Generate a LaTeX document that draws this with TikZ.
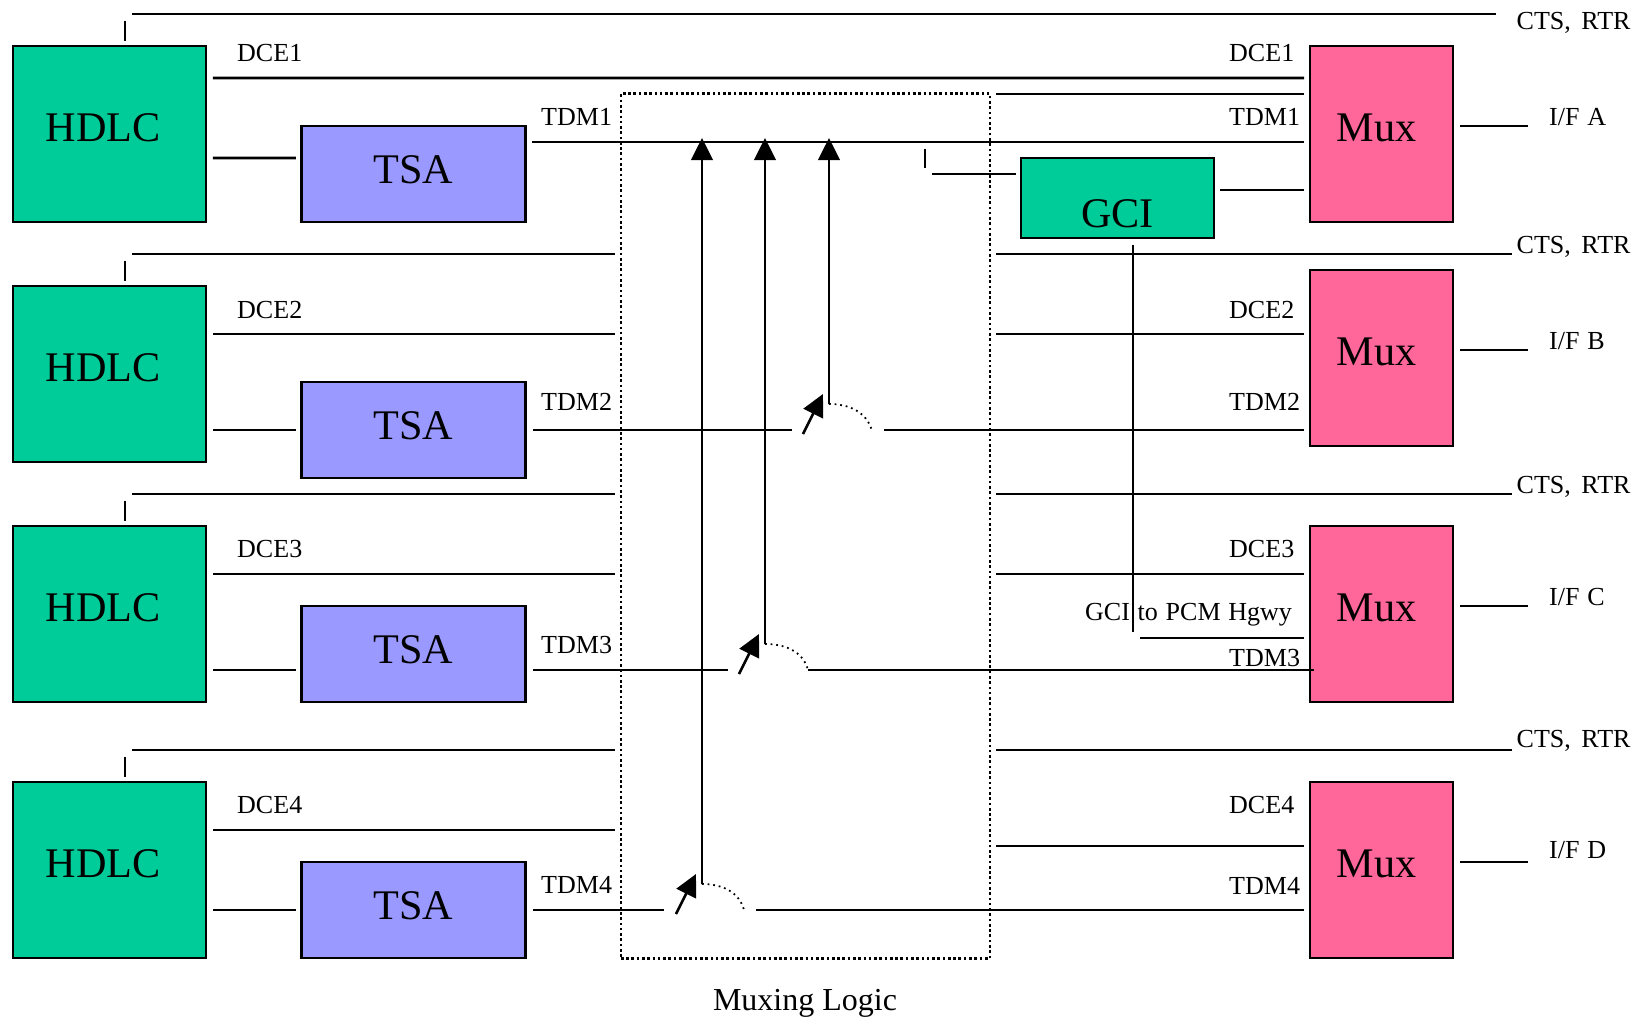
\documentclass[tikz,border=0pt]{standalone}
\usepackage{fontspec}
\setmainfont{Liberation Serif}
\usetikzlibrary{arrows.meta}
\definecolor{hdlcgreen}{HTML}{00CC99}
\definecolor{tsablue}{HTML}{9999FF}
\definecolor{muxpink}{HTML}{FF6699}
\newcommand{\labelfont}{\fontsize{7.4}{9}\selectfont\spaceskip=2.2pt\relax}
\tikzset{
	wire/.style={line width=.75pt},
	feed/.style={wire, shorten <=.055cm, shorten >=.04cm},
	hop/.style={line width=.5pt, dash pattern=on .5pt off 1.1pt},
	uparrow/.style={wire, -{Triangle[length=.22cm,width=.215cm]}},
	big/.style={font=\fontsize{12}{14}\selectfont, inner sep=0pt},
	small/.style={font=\labelfont, inner sep=0pt, anchor=base west},
	hdlcbox/.style={draw, wire, fill=hdlcgreen, minimum width=1.93cm, minimum height=1.76cm, inner sep=0pt, label={[big, xshift=-.065cm, yshift=.06cm]center:HDLC}},
	tsabox/.style={draw, wire, fill=tsablue, minimum width=2.24cm, minimum height=.96cm, inner sep=0pt, label={[big, yshift=.04cm]center:TSA}},
	muxbox/.style={draw, wire, fill=muxpink, minimum width=1.43cm, minimum height=1.76cm, inner sep=0pt, label={[big, xshift=-.05cm, yshift=.06cm]center:Mux}},
	gcibox/.style={draw, wire, fill=hdlcgreen, minimum width=1.93cm, minimum height=.8cm, inner sep=0pt, label={[big, yshift=-.155cm]center:GCI}},
}
\begin{document}
\begin{tikzpicture}[x=.01cm, y=-.01cm]
	\useasboundingbox (0,0) rectangle (1644,1018);
	% muxing logic frame
	\node[draw, line width=.75pt, dash pattern=on .75pt off .75pt, minimum width=3.69cm, minimum height=8.64cm, inner sep=0pt] (logic) at (805.5,526) {};
	\node[small, anchor=base, font=\fontsize{9.1}{11}\selectfont] (logiclabel) at (805,1010) {Muxing Logic};
	% blocks
	\node[hdlcbox] (hdlc1) at (109.5,134) {};
	\node[hdlcbox] (hdlc2) at (109.5,374) {};
	\node[hdlcbox] (hdlc3) at (109.5,614) {};
	\node[hdlcbox] (hdlc4) at (109.5,870) {};
	\node[tsabox] (tsa1) at (413.3,174) {};
	\node[tsabox] (tsa2) at (413.3,430) {};
	\node[tsabox] (tsa3) at (413.3,654) {};
	\node[tsabox] (tsa4) at (413.3,910) {};
	\node[muxbox] (mux1) at (1381.5,134) {};
	\node[muxbox] (mux2) at (1381.5,358) {};
	\node[muxbox] (mux3) at (1381.5,614) {};
	\node[muxbox] (mux4) at (1381.5,870) {};
	\node[gcibox] (gci) at (1117.5,198) {};
	% end points
	\coordinate (ctsstart1) at (132,14); \coordinate (ctsend1) at (1496,14);
	\coordinate (ctsstart2) at (132,254); \coordinate (ctsgap2a) at (615,254); \coordinate (ctsgap2b) at (996,254); \coordinate (ctsend2) at (1512,254);
	\coordinate (ctsstart3) at (132,494); \coordinate (ctsgap3a) at (615,494); \coordinate (ctsgap3b) at (996,494); \coordinate (ctsend3) at (1512,494);
	\coordinate (ctsstart4) at (132,750); \coordinate (ctsgap4a) at (615,750); \coordinate (ctsgap4b) at (996,750); \coordinate (ctsend4) at (1512,750);
	\coordinate (tick1a) at (125,21); \coordinate (tick1b) at (125,41);
	\coordinate (tick2a) at (125,261); \coordinate (tick2b) at (125,281);
	\coordinate (tick3a) at (125,501); \coordinate (tick3b) at (125,521);
	\coordinate (tick4a) at (125,757); \coordinate (tick4b) at (125,777);
	\coordinate (dceend1) at (1304,78); \coordinate (extra1a) at (996,94); \coordinate (extra1b) at (1304,94);
	\coordinate (dcegap2a) at (615,334); \coordinate (dcegap2b) at (996,334);
	\coordinate (dcegap3a) at (615,574); \coordinate (dcegap3b) at (996,574);
	\coordinate (dcegap4a) at (615,830); \coordinate (dcegap4b) at (996,846);
	\coordinate (tdm1a) at (532,142); \coordinate (tdm1b) at (1304,142);
	\coordinate (tdm2a) at (792,430); \coordinate (tdm2b) at (884,430);
	\coordinate (tdm3a) at (728,670); \coordinate (tdm3b) at (808,670);
	\coordinate (tdm4a) at (664,910); \coordinate (tdm4b) at (756,910);
	\coordinate (hop2) at (872,431); \coordinate (hop3) at (808,670); \coordinate (hop4) at (744,910);
	\coordinate (foot2) at (829,404); \coordinate (foot3) at (765,644); \coordinate (foot4) at (702,884);
	\coordinate (top2) at (829,138); \coordinate (top3) at (765,138); \coordinate (top4) at (702,138);
	\coordinate (sel2a) at (803,434); \coordinate (sel2b) at (823,394);
	\coordinate (sel3a) at (739,674); \coordinate (sel3b) at (759,634);
	\coordinate (sel4a) at (676,914); \coordinate (sel4b) at (696,874);
	\coordinate (gcitick1) at (925,149); \coordinate (gcitick2) at (925,168);
	\coordinate (gcileft1) at (932,174); \coordinate (gcileft2) at (1016,174);
	\coordinate (gciright1) at (1220,190); \coordinate (gciright2) at (1304,190);
	\coordinate (hgwy1) at (1133,245); \coordinate (hgwy2) at (1133,632);
	\coordinate (hgwy3) at (1140,638); \coordinate (hgwy4) at (1304,638);
	\coordinate (ifa) at (1528,126); \coordinate (ifb) at (1528,350); \coordinate (ifc) at (1528,606); \coordinate (ifd) at (1528,862);
	% control lines
	\draw[wire] (ctsstart1) -- (ctsend1);
	\draw[wire] (ctsstart2) -- (ctsgap2a);
	\draw[wire] (ctsgap2b) -- (ctsend2);
	\draw[wire] (ctsstart3) -- (ctsgap3a);
	\draw[wire] (ctsgap3b) -- (ctsend3);
	\draw[wire] (ctsstart4) -- (ctsgap4a);
	\draw[wire] (ctsgap4b) -- (ctsend4);
	\draw[wire] (tick1a) -- (tick1b);
	\draw[wire] (tick2a) -- (tick2b);
	\draw[wire] (tick3a) -- (tick3b);
	\draw[wire] (tick4a) -- (tick4b);
	% DCE lines
	\draw[feed, shorten >=0pt] ([yshift=.56cm]hdlc1.east) -- (dceend1);
	\draw[wire] (extra1a) -- (extra1b);
	\draw[feed, shorten >=0pt] (hdlc2.east |- dcegap2a) -- (dcegap2a);
	\draw[wire] (dcegap2b) -- ([xshift=-.05cm]mux2.west |- dcegap2b);
	\draw[feed, shorten >=0pt] (hdlc3.east |- dcegap3a) -- (dcegap3a);
	\draw[wire] (dcegap3b) -- ([xshift=-.05cm]mux3.west |- dcegap3b);
	\draw[feed, shorten >=0pt] (hdlc4.east |- dcegap4a) -- (dcegap4a);
	\draw[wire] (dcegap4b) -- ([xshift=-.05cm]mux4.west |- dcegap4b);
	% HDLC to TSA
	\draw[feed] ([yshift=-.24cm]hdlc1.east) -- ([yshift=.16cm]tsa1.west);
	\draw[feed] (hdlc2.east |- tsa2.west) -- (tsa2.west);
	\draw[feed] (hdlc3.east |- tdm3a) -- (tsa3.west |- tdm3a);
	\draw[feed] (hdlc4.east |- tsa4.west) -- (tsa4.west);
	% TDM lines
	\draw[wire] (tdm1a) -- (tdm1b);
	\draw[wire] ([xshift=.06cm]tsa2.east) -- (tdm2a);
	\draw[wire] (tdm2b) -- ([xshift=-.05cm]mux2.west |- tdm2b);
	\draw[wire] ([xshift=.06cm]tsa3.east |- tdm3a) -- (tdm3a);
	\draw[wire] (tdm3b) -- ([xshift=.05cm]mux3.west |- tdm3b);
	\draw[wire] ([xshift=.06cm]tsa4.east) -- (tdm4a);
	\draw[wire] (tdm4b) -- ([xshift=-.05cm]mux4.west |- tdm4b);
	% switches
	\draw[uparrow] (foot2) -- (top2);
	\draw[uparrow] (foot3) -- (top3);
	\draw[uparrow] (foot4) -- (top4);
	\draw[uparrow] (sel2a) -- (sel2b);
	\draw[uparrow] (sel3a) -- (sel3b);
	\draw[uparrow] (sel4a) -- (sel4b);
	\draw[hop] (foot2) to[out=0, in=105] (hop2);
	\draw[hop] (foot3) to[out=0, in=105] (hop3);
	\draw[hop] (foot4) to[out=0, in=105] (hop4);
	% GCI
	\draw[wire] (gcitick1) -- (gcitick2);
	\draw[wire] (gcileft1) -- (gcileft2);
	\draw[wire] (gciright1) -- (gciright2);
	\draw[wire] (hgwy1) -- (hgwy2);
	\draw[wire] (hgwy3) -- (hgwy4);
	% outputs
	\draw[feed, shorten >=0pt] (mux1.east |- ifa) -- (ifa);
	\draw[feed, shorten >=0pt] (mux2.east |- ifb) -- (ifb);
	\draw[feed, shorten >=0pt] (mux3.east |- ifc) -- (ifc);
	\draw[feed, shorten >=0pt] (mux4.east |- ifd) -- (ifd);
	% labels
	\node[small] (cts1) at (1516,29) {CTS,\hspace{.8pt} RTR};
	\node[small] (cts2) at (1516,253) {CTS,\hspace{.8pt} RTR};
	\node[small] (cts3) at (1516,493) {CTS,\hspace{.8pt} RTR};
	\node[small] (cts4) at (1516,747) {CTS,\hspace{.8pt} RTR};
	\node[small] (dcel1) at (236.5,61) {DCE1};
	\node[small] (dcel2) at (236.5,318) {DCE2};
	\node[small] (dcel3) at (236.5,557) {DCE3};
	\node[small] (dcel4) at (236.5,813) {DCE4};
	\node[small] (dcer1) at (1228.5,61) {DCE1};
	\node[small] (dcer2) at (1228.5,318) {DCE2};
	\node[small] (dcer3) at (1228.5,557) {DCE3};
	\node[small] (dcer4) at (1228.5,813) {DCE4};
	\node[small] (tdml1) at (540.5,125) {TDM1};
	\node[small] (tdml2) at (540.5,410) {TDM2};
	\node[small] (tdml3) at (540.5,653) {TDM3};
	\node[small] (tdml4) at (540.5,893) {TDM4};
	\node[small] (tdmr1) at (1228.5,125) {TDM1};
	\node[small] (tdmr2) at (1228.5,410) {TDM2};
	\node[small] (tdmr3) at (1228.5,666) {TDM3};
	\node[small] (tdmr4) at (1228.5,894) {TDM4};
	\node[small] (ifla) at (1548.5,125) {I/F A};
	\node[small] (iflb) at (1548.5,350) {I/F B};
	\node[small] (iflc) at (1548.5,605) {I/F C};
	\node[small] (ifld) at (1548.5,858) {I/F D};
	\node[small] (hgwylabel) at (1084.5,620.5) {GCI to PCM Hgwy};
\end{tikzpicture}
\end{document}
